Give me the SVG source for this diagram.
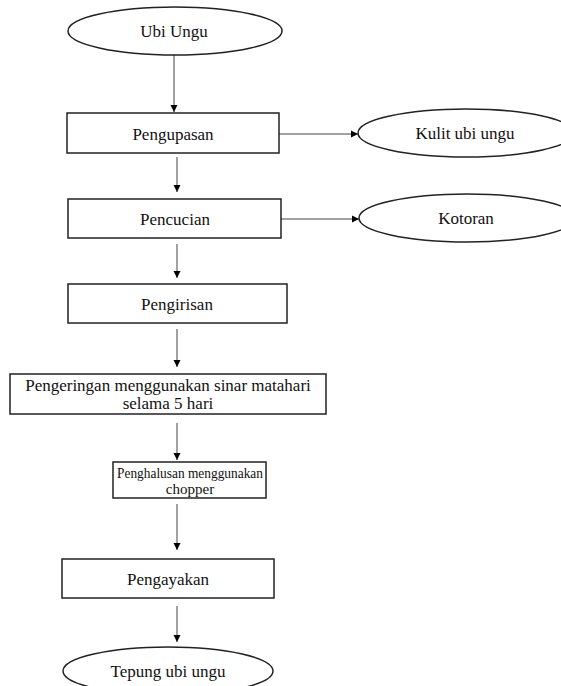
<svg xmlns="http://www.w3.org/2000/svg" width="561" height="686" viewBox="0 0 561 686">
<defs>
<marker id="ah" markerWidth="8" markerHeight="8" refX="7" refY="4" orient="auto" markerUnits="userSpaceOnUse">
<path d="M0,0.5 L7,4 L0,7.5 Z" fill="#000"/>
</marker>
</defs>
<style>
.box{fill:#fff;stroke:#222;stroke-width:1.5}
.ell{fill:#fff;stroke:#222;stroke-width:1.5}
.t{font-family:"Liberation Serif","Times New Roman",serif;font-size:17px;fill:#111;text-anchor:middle}
.s{font-size:15px}
.c{stroke:#444;stroke-width:1;fill:none;marker-end:url(#ah)}
</style>
<rect width="561" height="686" fill="#fff"/>
<g id="connectors">
<line class="c" x1="174" y1="55" x2="174" y2="112"/>
<line class="c" x1="177" y1="157" x2="177" y2="192"/>
<line class="c" x1="177" y1="244" x2="177" y2="278"/>
<line class="c" x1="177" y1="329" x2="177" y2="367"/>
<line class="c" x1="177" y1="423" x2="177" y2="460"/>
<line class="c" x1="177" y1="504" x2="177" y2="550"/>
<line class="c" x1="177" y1="606" x2="177" y2="642"/>
<line class="c" x1="279" y1="134" x2="358" y2="134"/>
<line class="c" x1="281" y1="219" x2="359" y2="219"/>
</g>
<g id="n-ubi-ungu">
<ellipse class="ell" cx="175" cy="31" rx="107" ry="24"/>
<text class="t" x="174" y="37">Ubi Ungu</text>
</g>
<g id="n-pengupasan">
<rect class="box" x="67" y="113" width="212" height="40"/>
<text class="t" x="173" y="140">Pengupasan</text>
</g>
<g id="n-kulit">
<ellipse class="ell" cx="466" cy="133" rx="108" ry="24"/>
<text class="t" x="465" y="139">Kulit ubi ungu</text>
</g>
<g id="n-pencucian">
<rect class="box" x="68" y="199" width="213" height="39"/>
<text class="t" x="175" y="225">Pencucian</text>
</g>
<g id="n-kotoran">
<ellipse class="ell" cx="467" cy="218" rx="108" ry="24"/>
<text class="t" x="466" y="224">Kotoran</text>
</g>
<g id="n-pengirisan">
<rect class="box" x="68" y="284" width="219" height="39"/>
<text class="t" x="177" y="310">Pengirisan</text>
</g>
<g id="n-pengeringan">
<rect class="box" x="10" y="374" width="316" height="40"/>
<text class="t" x="168" y="391">Pengeringan menggunakan sinar matahari</text>
<text class="t" x="168" y="409">selama 5 hari</text>
</g>
<g id="n-penghalusan">
<rect class="box" x="113" y="462" width="153" height="36"/>
<text class="t s" x="190" y="478" textLength="146" lengthAdjust="spacingAndGlyphs">Penghalusan menggunakan</text>
<text class="t s" x="190" y="494">chopper</text>
</g>
<g id="n-pengayakan">
<rect class="box" x="62" y="559" width="212" height="39"/>
<text class="t" x="168" y="585">Pengayakan</text>
</g>
<g id="n-tepung">
<ellipse class="ell" cx="168" cy="671" rx="105" ry="24"/>
<text class="t" x="168" y="677">Tepung ubi ungu</text>
</g>
</svg>
